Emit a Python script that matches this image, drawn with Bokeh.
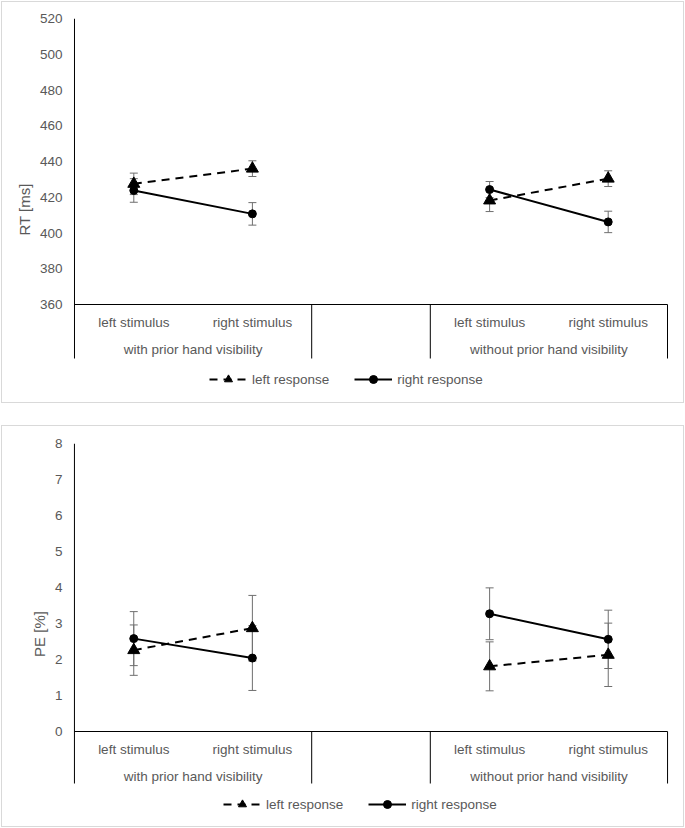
from bokeh.plotting import figure
from bokeh.models import (Range1d, FixedTicker, Whisker, TeeHead, ColumnDataSource,
                          Legend, LegendItem)
from bokeh.layouts import column
from bokeh.core.properties import value
from bokeh.embed import file_html
from bokeh.resources import INLINE

# ---------------- data ----------------
groups = ["with prior hand visibility", "without prior hand visibility"]
stimuli = ["left stimulus", "right stimulus"]
series = ["left response", "right response"]

# order: with/left, with/right, without/left, without/right
rt_left = [427.5, 436.0, 418.2, 430.4]
rt_left_err = [6.0, 4.4, 6.2, 4.4]
rt_right = [423.8, 410.7, 424.3, 406.2]
rt_right_err = [6.6, 6.3, 4.5, 6.0]
rt_ticks = [360, 380, 400, 420, 440, 460, 480, 500, 520]

pe_left = [2.26, 2.87, 1.81, 2.13]
pe_left_err = [0.70, 0.91, 0.68, 0.88]
pe_right = [2.58, 2.04, 3.27, 2.56]
pe_right_err = [0.75, 0.90, 0.72, 0.81]
pe_ticks = [0, 1, 2, 3, 4, 5, 6, 7, 8]

FONT = "Liberation Sans"
GREY = "#595959"
ERR = "#6f6f6f"

# category slots: group 1 (2 slots), empty slot, group 2 (2 slots)
group_slots = [2, 1, 2]
bounds = [0]
for n in group_slots:
    bounds.append(bounds[-1] + n)
group_starts = [bounds[0], bounds[2]]
xs = [gs + si + 0.5 for gs in group_starts for si in range(len(stimuli))]
x_line = xs[:2] + [float("nan")] + xs[2:]
group_centers = [gs + len(stimuli) / 2 for gs in group_starts]
n_slots = bounds[-1]


def make_panel(left_vals, left_err, right_vals, right_err, ticks, ylabel,
               width, height, frame_left, frame_right, frame_top, frame_bottom,
               scale_px, sep_px, legend_xy):
    y0, y1 = ticks[0], ticks[-1]
    frame_h = frame_bottom - frame_top
    ppu = scale_px / (y1 - y0)          # pixels per y unit
    ystart = y1 - frame_h / ppu
    ysep = y0 - sep_px / ppu            # lower end of group separators
    xpx = (frame_right - frame_left - 4) / n_slots
    pad = 2 / xpx
    p = figure(width=width, height=height, output_backend="svg", toolbar_location=None,
               x_range=Range1d(-pad, n_slots + pad), y_range=Range1d(ystart, y1),
               x_axis_location=None, min_border_left=frame_left,
               min_border_right=width - frame_right, min_border_top=frame_top,
               min_border_bottom=height - frame_bottom,
               styles={"box-shadow": "0 0 0 1px #d9d9d9"})
    p.grid.visible = False
    p.outline_line_color = None
    p.background_fill_color = "white"
    p.border_fill_color = "white"

    ax = p.yaxis[0]
    ax.ticker = FixedTicker(ticks=ticks)
    ax.axis_line_color = None
    ax.major_tick_line_color = None
    ax.minor_tick_line_color = None
    ax.major_tick_out = 0
    ax.major_tick_in = 0
    ax.major_label_standoff = 10
    ax.major_label_text_font = FONT
    ax.major_label_text_font_size = "13.5px"
    ax.major_label_text_color = GREY
    ax.axis_label = ylabel
    ax.axis_label_text_font = FONT
    ax.axis_label_text_font_size = "15px"
    ax.axis_label_text_font_style = "normal"
    ax.axis_label_text_color = GREY
    ax.axis_label_standoff = 4

    # axis lines and group separators
    tops = [y1] + [y0] * (len(bounds) - 1)
    p.segment(x0=bounds, y0=[ysep] * len(bounds), x1=bounds, y1=tops,
              line_color="black", line_width=1)
    p.segment(x0=[bounds[0]], y0=[y0], x1=[bounds[-1]], y1=[y0],
              line_color="black", line_width=1)

    # category labels
    cat_text = [s for _ in groups for s in stimuli]
    p.text(x=xs, y=[y0] * len(xs), text=cat_text, y_offset=18,
           text_align="center", text_baseline="middle",
           text_font=value(FONT), text_font_size="13.5px", text_color=GREY)
    p.text(x=group_centers, y=[y0] * len(groups), text=groups, y_offset=45,
           text_align="center", text_baseline="middle",
           text_font=value(FONT), text_font_size="13.5px", text_color=GREY)

    # error bars
    for vals, err in ((left_vals, left_err), (right_vals, right_err)):
        src = ColumnDataSource(dict(x=xs, upper=[v + e for v, e in zip(vals, err)],
                                    lower=[v - e for v, e in zip(vals, err)]))
        w = Whisker(base="x", upper="upper", lower="lower", source=src,
                    line_color=ERR, line_width=1,
                    upper_head=TeeHead(size=8, line_color=ERR, line_width=1),
                    lower_head=TeeHead(size=8, line_color=ERR, line_width=1))
        p.add_layout(w)

    yl = left_vals[:2] + [float("nan")] + left_vals[2:]
    yr = right_vals[:2] + [float("nan")] + right_vals[2:]
    l1 = p.line(x_line, yl, line_color="black", line_width=2, line_dash="8 6")
    m1 = p.scatter(xs, left_vals, marker="triangle", size=12, fill_color="black",
                   line_color="black")
    l2 = p.line(x_line, yr, line_color="black", line_width=2)
    m2 = p.scatter(xs, right_vals, marker="circle", size=8, fill_color="black",
                   line_color="black")

    legend = Legend(items=[LegendItem(label=series[0], renderers=[l1, m1]),
                           LegendItem(label=series[1], renderers=[l2, m2])],
                    orientation="horizontal", location=legend_xy,
                    glyph_width=38, glyph_height=20, label_height=20,
                    label_standoff=5, spacing=25, padding=0, margin=0,
                    border_line_color=None, background_fill_alpha=0,
                    label_text_font=FONT, label_text_font_size="13.5px",
                    label_text_color=GREY)
    p.add_layout(legend)
    return p


# panels placed at page (2, 2) and (2, 426); box-shadow ring gives the outer frame
p1 = make_panel(rt_left, rt_left_err, rt_right, rt_right_err, rt_ticks, "RT [ms]",
                681, 400, 70, 668, 16, 398, 286, 54, (137, 11))
p2 = make_panel(pe_left, pe_left_err, pe_right, pe_right_err, pe_ticks, "PE [%]",
                681, 400, 55, 667, 17, 398, 288, 52, (151, 10))

layout = column(p1, p2, spacing=24,
                styles={"position": "absolute", "left": "2px", "top": "2px"})

open("out.html", "w").write(file_html(layout, INLINE))
